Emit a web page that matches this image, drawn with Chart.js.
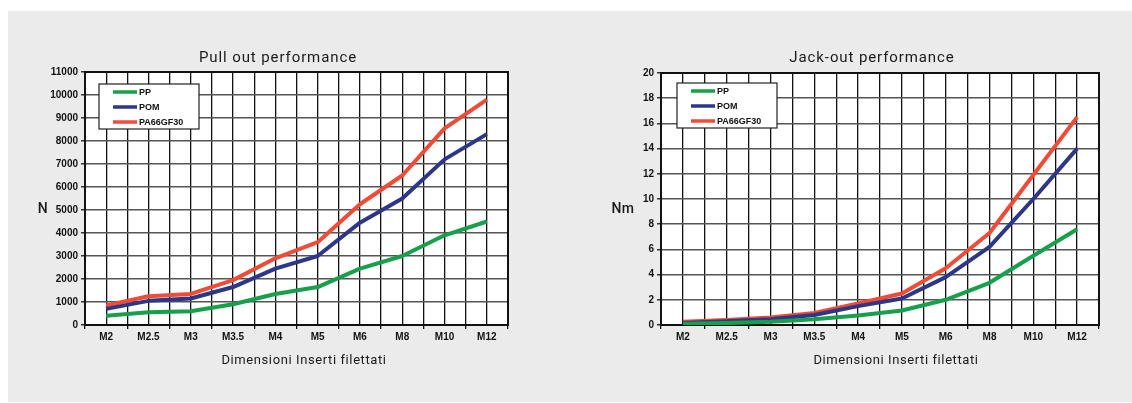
<!DOCTYPE html>
<html>
<head>
<meta charset="utf-8">
<script src="https://cdn.jsdelivr.net/npm/chart.js@4.4.1/dist/chart.umd.min.js"></script>
<style>
  html, body { margin: 0; padding: 0; background: #ffffff; }
  #bg { position: absolute; left: 8px; top: 11px; width: 1124px; height: 391px; background: #ebebeb; }
  canvas { position: absolute; top: 0; }
  #pullChart { left: 0; }
  #jackChart { left: 566px; }
</style>
</head>
<body>
<div id="bg"></div>
<canvas id="pullChart" width="566" height="403"></canvas>
<canvas id="jackChart" width="566" height="403"></canvas>
<script>
const categories = ['M2', 'M2.5', 'M3', 'M3.5', 'M4', 'M5', 'M6', 'M8', 'M10', 'M12'];
const seriesNames = ['PP', 'POM', 'PA66GF30'];
const seriesColors = ['#17a04b', '#2c3789', '#ef4b35'];

// Pull out performance (N)
const pullPP = [400, 550, 600, 900, 1350, 1650, 2450, 3000, 3900, 4500];
const pullPOM = [700, 1050, 1150, 1650, 2450, 3000, 4450, 5500, 7200, 8300];
const pullPA = [850, 1250, 1350, 1950, 2900, 3600, 5250, 6500, 8550, 9800];

// Jack-out performance (Nm)
const jackPP = [0.1, 0.15, 0.25, 0.45, 0.75, 1.15, 2.0, 3.35, 5.5, 7.6];
const jackPOM = [0.15, 0.3, 0.45, 0.8, 1.5, 2.1, 3.8, 6.2, 10.0, 14.0];
const jackPA = [0.25, 0.4, 0.6, 0.95, 1.7, 2.5, 4.5, 7.3, 11.9, 16.5];

const tickFont = { family: 'Liberation Sans, Arial, sans-serif', size: 10, weight: 'bold' };

// white plot, frame, legend box and texts
const decor = {
    id: 'decor',
    beforeDraw(chart) {
        const a = chart.chartArea, ctx = chart.ctx;
        ctx.save();
        ctx.fillStyle = '#ffffff';
        ctx.fillRect(a.left, a.top, a.right - a.left, a.bottom - a.top);
        ctx.restore();
    },
    beforeDatasetsDraw(chart) {
        const a = chart.chartArea, ctx = chart.ctx;
        ctx.save();
        ctx.strokeStyle = '#111';
        ctx.lineWidth = 2;
        ctx.strokeRect(a.left, a.top, a.right - a.left, a.bottom - a.top);
        ctx.restore();
    },
    afterDraw(chart, args, opts) {
        const a = chart.chartArea, ctx = chart.ctx;
        ctx.save();
        // legend
        const bx = a.left + opts.legendDx, by = a.top + opts.legendDy;
        ctx.fillStyle = '#ffffff';
        ctx.fillRect(bx, by, 100, 45);
        ctx.strokeStyle = '#222';
        ctx.lineWidth = 1.2;
        ctx.strokeRect(bx, by, 100, 45);
        ctx.font = 'bold 9px "Liberation Sans", Arial, sans-serif';
        ctx.textBaseline = 'middle';
        ctx.textAlign = 'left';
        chart.data.datasets.forEach((ds, i) => {
            const y = by + 8 + i * 15;
            ctx.strokeStyle = ds.borderColor;
            ctx.lineWidth = 3.5;
            ctx.beginPath();
            ctx.moveTo(bx + 14, y);
            ctx.lineTo(bx + 38, y);
            ctx.stroke();
            ctx.fillStyle = '#111';
            ctx.fillText(ds.label, bx + 40, y + 0.5);
        });
        // titles
        ctx.fillStyle = '#1a1a1a';
        ctx.textAlign = 'center';
        ctx.font = '15px Roboto, sans-serif';
        ctx.letterSpacing = '0.9px';
        ctx.fillText(opts.title, opts.titleX, 58);
        ctx.font = '13px Roboto, sans-serif';
        ctx.letterSpacing = '0.6px';
        ctx.fillText('Dimensioni Inserti filettati', opts.xTitleX, 361);
        ctx.font = '500 14px Roboto, sans-serif';
        ctx.letterSpacing = '0.5px';
        ctx.fillText(opts.yTitle, opts.yTitleX, 209);
        ctx.restore();
    }
};

function makeChart(id, values, yMax, yStep, pad, texts) {
    const ctx = document.getElementById(id).getContext('2d');
    return new Chart(ctx, {
        type: 'line',
        data: {
            labels: categories,
            datasets: values.map((v, i) => ({
                label: seriesNames[i],
                data: v,
                borderColor: seriesColors[i],
                borderWidth: 4,
                pointRadius: 0,
                tension: 0,
                borderJoinStyle: 'round',
                xAxisID: 'x'
            }))
        },
        options: {
            responsive: false,
            animation: false,
            layout: { padding: pad },
            plugins: {
                legend: { display: false },
                title: { display: false },
                tooltip: { enabled: false },
                decor: texts
            },
            scales: {
                x: {
                    type: 'category',
                    offset: true,
                    grid: { offset: true, color: '#111', lineWidth: 1.3, tickLength: 4, tickColor: '#111' },
                    border: { color: '#111', width: 2 },
                    ticks: { font: tickFont, color: '#111', padding: 2, maxRotation: 0, autoSkip: false },
                    afterFit: s => { s.height = 20; }
                },
                x2: {
                    type: 'category',
                    labels: categories,
                    position: 'bottom',
                    offset: true,
                    grid: { offset: false, color: '#111', lineWidth: 1.3, drawTicks: false },
                    border: { display: false },
                    ticks: { display: false },
                    afterFit: s => { s.height = 0; }
                },
                y: {
                    min: 0,
                    max: yMax,
                    ticks: { stepSize: yStep, font: tickFont, color: '#111', padding: 3, callback: v => String(v) },
                    grid: { color: '#555', lineWidth: 1.5, tickLength: 4, tickColor: '#333' },
                    border: { color: '#111', width: 2 },
                    afterFit: s => { s.width = 40; }
                }
            }
        },
        plugins: [decor]
    });
}

makeChart('pullChart', [pullPP, pullPOM, pullPA], 11000, 1000,
    { left: 45, right: 58, top: 72, bottom: 58 },
    { title: 'Pull out performance', titleX: 278, xTitleX: 304, yTitle: 'N', yTitleX: 43, legendDx: 14, legendDy: 12 });

makeChart('jackChart', [jackPP, jackPOM, jackPA], 20, 2,
    { left: 55, right: 33, top: 73, bottom: 58 },
    { title: 'Jack-out performance', titleX: 306, xTitleX: 330, yTitle: 'Nm', yTitleX: 57, legendDx: 16, legendDy: 10 });
</script>
</body>
</html>
